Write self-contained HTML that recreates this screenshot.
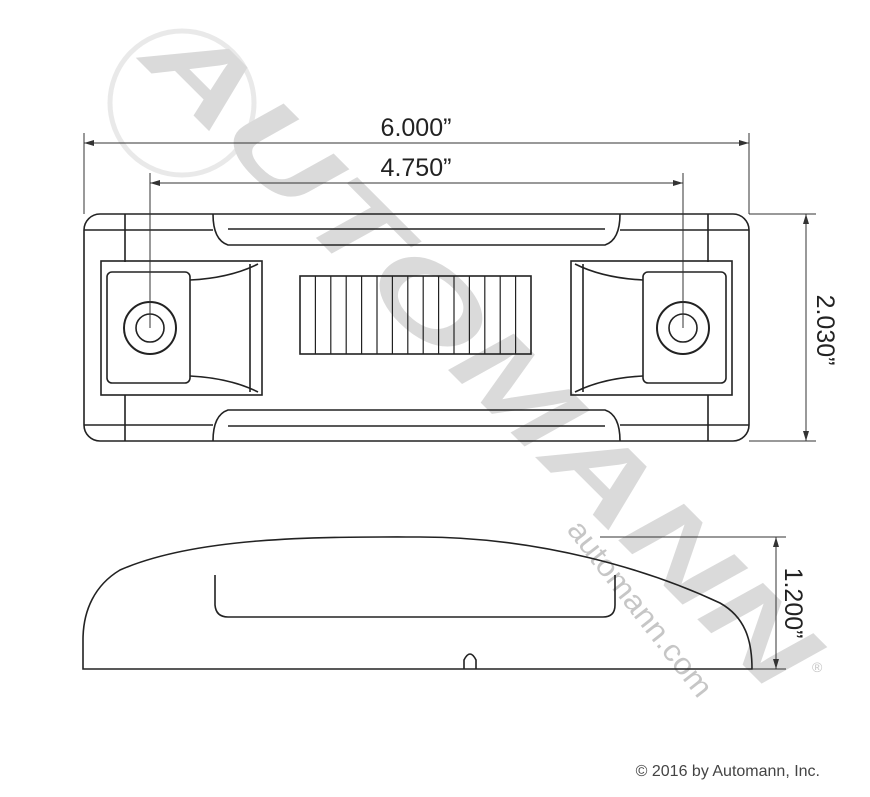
<!DOCTYPE html>
<html><head><style>body{margin:0;background:#fff}svg{display:block}</style></head><body>
<svg width="870" height="797" viewBox="0 0 870 797" xmlns="http://www.w3.org/2000/svg" font-family="Liberation Sans, sans-serif">
<!-- watermark -->
<g opacity="0.55">
<circle cx="182" cy="103" r="72" fill="none" stroke="#d8d8d8" stroke-width="5"/>
<text x="0" y="0" transform="translate(138,60) rotate(45)" font-size="105" font-weight="bold" fill="#bdbdbd" textLength="900" lengthAdjust="spacingAndGlyphs" font-style="italic">AUTOMANN</text>
<text x="0" y="0" transform="translate(566,530) rotate(52)" font-size="30" fill="#999" textLength="215" lengthAdjust="spacingAndGlyphs">automann.com</text>
<text x="812" y="672" font-size="14" fill="#999">®</text>
</g>
<g fill="none" stroke="#222" stroke-width="1.6">
<!-- top view -->
<rect x="84" y="214" width="665" height="227" rx="16"/>
<line x1="125" y1="214" x2="125" y2="262"/><line x1="125" y1="395" x2="125" y2="441"/>
<line x1="708" y1="214" x2="708" y2="262"/><line x1="708" y1="395" x2="708" y2="441"/>
<line x1="84" y1="230" x2="213" y2="230"/><line x1="620" y1="230" x2="749" y2="230"/>
<line x1="84" y1="425" x2="213" y2="425"/><line x1="620" y1="425" x2="749" y2="425"/>
<path d="M213 214 Q213 240 228 245 L605 245 Q620 240 620 214"/>
<line x1="228" y1="229" x2="605" y2="229"/>
<path d="M213 441 Q213 415 228 410 L605 410 Q620 415 620 441"/>
<line x1="228" y1="426" x2="605" y2="426"/>
<!-- left pocket -->
<rect x="101" y="261" width="161" height="134"/>
<rect x="107" y="272" width="83" height="111" rx="5"/>
<path d="M190 280 Q230 278 258 264"/><path d="M190 376 Q230 378 258 392"/>
<line x1="250" y1="264" x2="250" y2="392"/>
<circle cx="150" cy="328" r="26" stroke-width="2"/><circle cx="150" cy="328" r="14"/>
<!-- right pocket -->
<rect x="571" y="261" width="161" height="134"/>
<rect x="643" y="272" width="83" height="111" rx="5"/>
<path d="M643 280 Q603 278 575 264"/><path d="M643 376 Q603 378 575 392"/>
<line x1="583" y1="264" x2="583" y2="392"/>
<circle cx="683" cy="328" r="26" stroke-width="2"/><circle cx="683" cy="328" r="14"/>
<!-- grid -->
<rect x="300" y="276" width="231" height="78"/>
<g stroke-width="1.2">
<line x1="315.4" y1="276" x2="315.4" y2="354"/><line x1="330.8" y1="276" x2="330.8" y2="354"/><line x1="346.2" y1="276" x2="346.2" y2="354"/><line x1="361.6" y1="276" x2="361.6" y2="354"/><line x1="377" y1="276" x2="377" y2="354"/><line x1="392.4" y1="276" x2="392.4" y2="354"/><line x1="407.8" y1="276" x2="407.8" y2="354"/><line x1="423.2" y1="276" x2="423.2" y2="354"/><line x1="438.6" y1="276" x2="438.6" y2="354"/><line x1="454" y1="276" x2="454" y2="354"/><line x1="469.4" y1="276" x2="469.4" y2="354"/><line x1="484.8" y1="276" x2="484.8" y2="354"/><line x1="500.2" y1="276" x2="500.2" y2="354"/><line x1="515.6" y1="276" x2="515.6" y2="354"/>
</g>
<!-- side view -->
<path d="M83 669 L83 640 C83 610 95 585 120 570 C 200 535 330 537 420 537 C 540 537 650 570 720 603 C 745 617 752 640 752 669 Z"/>
<path d="M215 575 L215 605 Q216 617 228 617 L603 617 Q615 617 615 605 L615 575"/>
<path d="M464 669 L464 660 Q470 648 476 660 L476 669"/>
</g>
<!-- dimensions -->
<g stroke="#333" stroke-width="1" fill="none">
<line x1="84" y1="133" x2="84" y2="214"/><line x1="749" y1="133" x2="749" y2="214"/>
<line x1="84" y1="143" x2="749" y2="143"/>
<line x1="150" y1="173" x2="150" y2="328"/><line x1="683" y1="173" x2="683" y2="328"/>
<line x1="150" y1="183" x2="683" y2="183"/>
<line x1="749" y1="214" x2="816" y2="214"/><line x1="749" y1="441" x2="816" y2="441"/>
<line x1="806" y1="214" x2="806" y2="441"/>
<line x1="600" y1="537" x2="786" y2="537"/><line x1="752" y1="669" x2="786" y2="669"/>
<line x1="776" y1="537" x2="776" y2="669"/>
</g>
<g fill="#333">
<path d="M84 143 l10 -3 v6z"/><path d="M749 143 l-10 -3 v6z"/>
<path d="M150 183 l10 -3 v6z"/><path d="M683 183 l-10 -3 v6z"/>
<path d="M806 214 l-3 10 h6z"/><path d="M806 441 l-3 -10 h6z"/>
<path d="M776 537 l-3 10 h6z"/><path d="M776 669 l-3 -10 h6z"/>
</g>
<g fill="#222" font-size="25">
<text x="416" y="136" text-anchor="middle">6.000”</text>
<text x="416" y="176" text-anchor="middle">4.750”</text>
<text transform="translate(817,330) rotate(90)" text-anchor="middle">2.030”</text>
<text transform="translate(785,603) rotate(90)" text-anchor="middle">1.200”</text>
</g>
<text x="820" y="776" text-anchor="end" font-size="16" fill="#444">© 2016 by Automann, Inc.</text>
</svg>
</body></html>
